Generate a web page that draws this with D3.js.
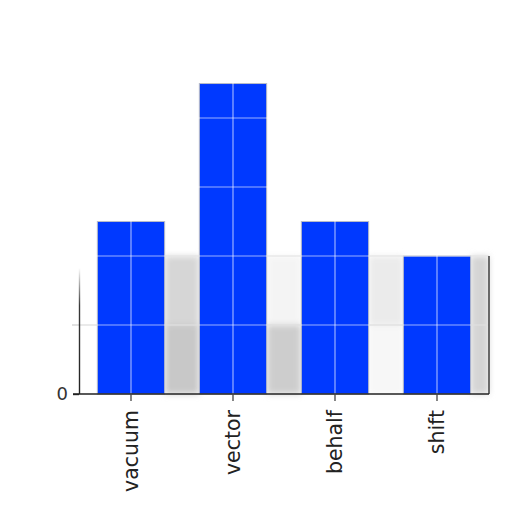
<html>
<script src="https://d3js.org/d3.v7.min.js"></script>
<style>
  body { margin: 0; background: white; }
  text { font-family: "DejaVu Sans", sans-serif; }
</style>
<body>
<svg width="512" height="512"></svg>
<script>
// data
var categories = ["vacuum", "vector", "behalf", "shift"];
var values = [2.5, 4.5, 2.5, 2.0];
var yTicks = [0, 1, 2, 3, 4];
var yTickLabels = ["0", "", "", "", ""];
// grey smudges in the gaps between bars: gap index, value from, value to, tone
var shadeGaps = [
  {gap: 1, from: 0, to: 1, tone: "#c8c8c8"},
  {gap: 1, from: 1, to: 2, tone: "#d6d6d6"},
  {gap: 2, from: 0, to: 1, tone: "#cdcdcd"},
  {gap: 2, from: 1, to: 2, tone: "#f4f4f4"},
  {gap: 3, from: 0, to: 1, tone: "#f7f7f7"},
  {gap: 3, from: 1, to: 2, tone: "#ebebeb"},
  {gap: 4, from: 0, to: 2, tone: "#d4d4d4"}
];

var svg = d3.select("svg");

var x = d3.scaleBand().domain(categories).range([80, 488])
  .paddingInner(0.34).paddingOuter(0.17);
var y = d3.scaleLinear().domain([0, 4.725]).range([394, 68]);

var defs = svg.append("defs");
defs.append("filter").attr("id", "blur")
  .attr("x", "-20%").attr("y", "-20%").attr("width", "140%").attr("height", "140%")
  .append("feGaussianBlur").attr("stdDeviation", 3);
var grad = defs.append("linearGradient").attr("id", "fade")
  .attr("gradientUnits", "userSpaceOnUse")
  .attr("x1", 0).attr("y1", 268).attr("x2", 0).attr("y2", 394);
grad.append("stop").attr("offset", "0%").attr("stop-color", "#222").attr("stop-opacity", 0);
grad.append("stop").attr("offset", "30%").attr("stop-color", "#222").attr("stop-opacity", 0.9);
grad.append("stop").attr("offset", "100%").attr("stop-color", "#222").attr("stop-opacity", 1);

// gap edges from the band scale
function gapLeft(i) { return i === 0 ? 79 : x(categories[i - 1]) + x.bandwidth(); }
function gapRight(i) { return i === categories.length ? 489 : x(categories[i]); }

// grey smudges
svg.append("g").attr("filter", "url(#blur)")
  .selectAll("rect").data(shadeGaps).enter().append("rect")
  .attr("x", function(d) { return gapLeft(d.gap); })
  .attr("width", function(d) { return gapRight(d.gap) - gapLeft(d.gap); })
  .attr("y", function(d) { return y(d.to); })
  .attr("height", function(d) { return y(d.from) - y(d.to); })
  .attr("fill", function(d) { return d.tone; });

// faint grey lines across the plot
svg.append("line").attr("x1", 72).attr("x2", 489)
  .attr("y1", y(1)).attr("y2", y(1)).attr("stroke", "#c4c4c4").attr("stroke-width", 1.2);
svg.append("line").attr("x1", gapLeft(1)).attr("x2", 489)
  .attr("y1", y(2)).attr("y2", y(2)).attr("stroke", "#cfcfcf").attr("stroke-width", 1.2);

// bars
svg.append("g").selectAll("rect").data(values).enter().append("rect")
  .attr("x", function(d, i) { return x(categories[i]); })
  .attr("width", x.bandwidth())
  .attr("y", function(d) { return y(d); })
  .attr("height", function(d) { return y(0) - y(d); })
  .attr("fill", "#0039ff")
  .attr("stroke", "#b8bcc8").attr("stroke-width", 1);

// white grid over the bars
var grid = svg.append("g").attr("stroke", "white").attr("stroke-opacity", 0.6).attr("stroke-width", 1.2);
grid.selectAll(".h").data(yTicks.slice(1)).enter().append("line")
  .attr("x1", 79).attr("x2", 489)
  .attr("y1", function(d) { return y(d); }).attr("y2", function(d) { return y(d); });
grid.selectAll(".v").data(categories).enter().append("line")
  .attr("x1", function(d) { return x(d) + x.bandwidth() / 2; })
  .attr("x2", function(d) { return x(d) + x.bandwidth() / 2; })
  .attr("y1", y(0)).attr("y2", 60);

// spines
svg.append("line").attr("x1", 79.5).attr("x2", 79.5).attr("y1", 268).attr("y2", 394)
  .attr("stroke", "url(#fade)").attr("stroke-width", 1.4);
svg.append("line").attr("x1", 489).attr("x2", 489).attr("y1", y(2)).attr("y2", 394)
  .attr("stroke", "#333").attr("stroke-width", 1.4);

// x axis
var xAxis = svg.append("g").attr("transform", "translate(0,394)")
  .call(d3.axisBottom(x).tickSize(7).tickPadding(9));
xAxis.select(".domain").attr("d", "M73,0H489").attr("stroke", "#222").attr("stroke-width", 1.5);
xAxis.selectAll(".tick line").attr("stroke", "#444").attr("stroke-width", 1.3);
xAxis.selectAll(".tick text")
  .attr("transform", "rotate(-90)")
  .attr("text-anchor", "end")
  .attr("x", -16).attr("y", 0).attr("dy", "0.35em")
  .style("font-size", "20.5px").attr("fill", "#222");

// y axis (only the zero label)
var yAxis = svg.append("g").attr("transform", "translate(79,0)")
  .call(d3.axisLeft(y).tickValues([0]).tickSize(6).tickPadding(5)
    .tickFormat(function(d) { return yTickLabels[yTicks.indexOf(d)]; }));
yAxis.select(".domain").remove();
yAxis.selectAll(".tick line").attr("stroke", "#222").attr("stroke-width", 1.4);
yAxis.selectAll(".tick text").style("font-size", "18px").attr("fill", "#333");
</script>
</body>
</html>
